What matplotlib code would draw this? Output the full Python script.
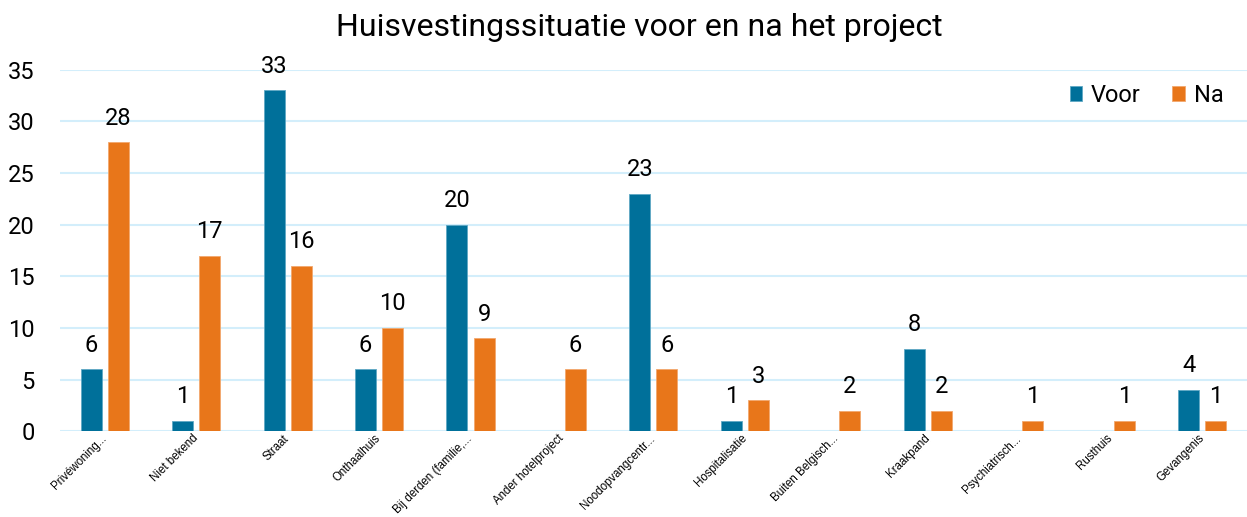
import numpy as np
import matplotlib
matplotlib.use("Agg")
import matplotlib.pyplot as plt

categories = ["Privéwoning...", "Niet bekend", "Straat", "Onthaalhuis",
              "Bij derden (familie,...", "Ander hotelproject",
              "Noodopvangcentr...", "Hospitalisatie", "Buiten Belgisch...",
              "Kraakpand", "Psychiatrisch...", "Rusthuis", "Gevangenis"]
voor = [6, 1, 33, 6, 20, 0, 23, 1, 0, 8, 0, 0, 4]
na = [28, 17, 16, 10, 9, 6, 6, 3, 2, 2, 1, 1, 1]

BLUE = "#00709a"
ORANGE = "#e8761a"
GRID = "#d3eefb"

plt.rcParams["font.family"] = ["Roboto", "DejaVu Sans"]

fig = plt.figure(figsize=(12.47, 5.17), dpi=100)
ax = fig.add_axes([0.048, 0.166, 0.952, 0.699])

x = np.arange(len(categories))
w = 0.23
off = 0.148
b1 = ax.bar(x - off, voor, w, color=BLUE, edgecolor="#5fa8c4", linewidth=0.6,
            label="Voor", zorder=3)
b2 = ax.bar(x + off, na, w, color=ORANGE, edgecolor="#f2a86e", linewidth=0.6,
            label="Na", zorder=3)

# value labels above bars, zeros left out
for bars, vals in ((b1, voor), (b2, na)):
    for r, v in zip(bars, vals):
        if v == 0:
            continue
        ax.annotate(str(v), (r.get_x() + r.get_width() / 2, v),
                    xytext=(0, 9), textcoords="offset points",
                    ha="center", va="bottom", fontsize=17, clip_on=False)

ax.set_xlim(-0.49, 12.49)
ax.set_ylim(0, 35)
ax.set_yticks(range(0, 36, 5))
ax.yaxis.grid(True, color=GRID, linewidth=1.5, zorder=0)
ax.set_axisbelow(True)
for s in ax.spines.values():
    s.set_visible(False)
ax.tick_params(axis="both", length=0)
ax.tick_params(axis="y", labelsize=17, pad=18)
ax.set_xticks(x)
ax.set_xticklabels(categories, rotation=45, ha="right", va="center",
                   rotation_mode="anchor", fontsize=8.3,
                   family=["Liberation Sans", "DejaVu Sans"])
ax.tick_params(axis="x", pad=4)

ax.legend(loc="upper right", bbox_to_anchor=(0.998, 1.02), ncol=2, frameon=False,
          fontsize=17, handlelength=0.55, handleheight=0.55,
          handletextpad=0.35, columnspacing=1.35)

fig.suptitle("Huisvestingssituatie voor en na het project", fontsize=23,
             x=0.513, y=0.975, va="top")

fig.savefig("out.png", dpi=100)
